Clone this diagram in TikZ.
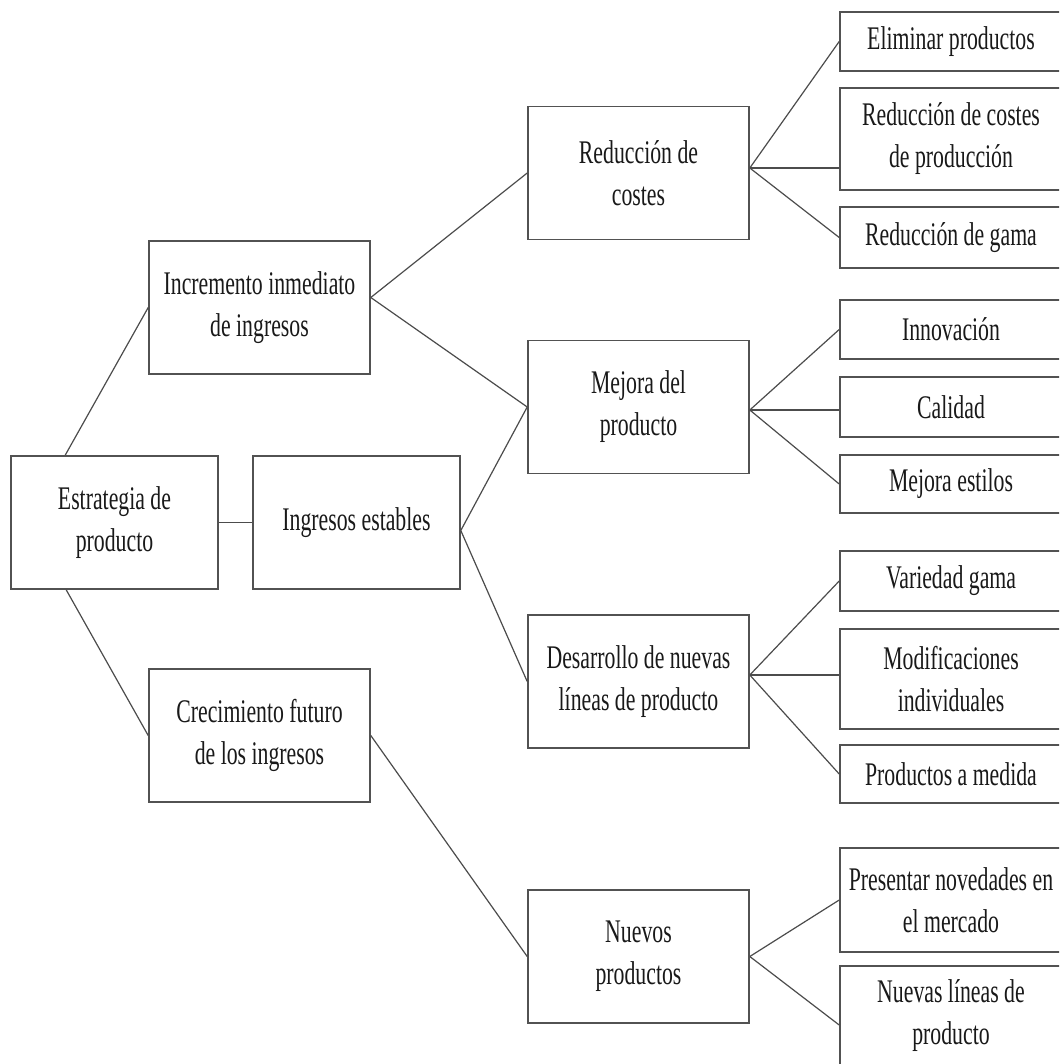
\documentclass[tikz,border=0pt]{standalone}
\usepackage{fontspec}
\setmainfont{Liberation Serif}[FakeStretch=0.66]
\begin{document}
\begin{tikzpicture}[x=0.5pt,y=-0.5pt,
  box/.style={draw=black!68, line width=0.8pt, fill=white, inner sep=0pt,
    align=center, text=black!90,
    font=\fontsize{16.5pt}{21pt}\selectfont},
  midbox/.style={box, minimum width=110.5pt, minimum height=66.5pt},
  leaf/.style={box, minimum width=111pt},
  link/.style={draw=black!70, line width=0.6pt}]
\useasboundingbox (0,0) rectangle (1059,1064);
\clip (0,0) rectangle (1059,1064);
\fill[white] (0,0) rectangle (1059,1064);

% first level
\node[box, minimum width=103.5pt, minimum height=66.5pt] (E) at (114.5,522.5) {Estrategia de\\producto};
\node[box, minimum width=110.5pt, minimum height=66.5pt] (I) at (259.5,307.5) {Incremento inmediato\\de ingresos};
\node[box, minimum width=103.5pt, minimum height=66.5pt] (S) at (356.5,522.5) {Ingresos estables};
\node[box, minimum width=110.5pt, minimum height=66.5pt] (C) at (259.5,735.5) {Crecimiento futuro\\de los ingresos};

% second level
\node[midbox] (R) at (638.5,173) {Reducción de\\costes};
\node[midbox] (M) at (638.5,407) {Mejora del\\producto};
\node[midbox] (D) at (638.5,681.5) {Desarrollo de nuevas\\líneas de producto};
\node[midbox] (N) at (638.5,956.5) {Nuevos\\productos};

% leaves (their right edges run past the page)
\node[leaf, minimum height=29.5pt] (L1) at (951,41.5) {Eliminar productos};
\node[leaf, minimum height=51pt] (L2) at (951,139) {Reducción de costes\\de producción};
\node[leaf, minimum height=30.5pt] (L3) at (951,237.5) {Reducción de gama};
\node[leaf, minimum height=29.5pt] (L4) at (951,329.5) {Innovación};
\node[leaf, minimum height=30pt] (L5) at (951,407) {Calidad};
\node[leaf, minimum height=29pt] (L6) at (951,484) {Mejora estilos};
\node[leaf, minimum height=30pt] (L7) at (951,581) {Variedad gama};
\node[leaf, minimum height=50pt] (L8) at (951,679) {Modificaciones\\individuales};
\node[leaf, minimum height=29pt] (L9) at (951,774) {Productos a medida};
\node[leaf, minimum height=52pt] (L10) at (951,900) {Presentar novedades en\\el mercado};
\node[leaf, minimum height=50pt] (L11) at (951,1016) {Nuevas líneas de\\producto};

% branch points
\coordinate (e1) at ([xshift=27.5pt]E.north west);
\coordinate (e2) at ([xshift=28pt]E.south west);
\coordinate (i0) at ([yshift=5pt]I.east);
\coordinate (s0) at ([yshift=-4pt]S.east);
\coordinate (r0) at ([yshift=2.5pt]R.east);
\coordinate (m0) at ([yshift=-1.5pt]M.east);
\coordinate (d0) at ([yshift=3.25pt]D.east);
\coordinate (n0) at (N.east);

% connectors
\draw[link] (e1) -- (I.west);
\draw[link] (E.east) -- (S.west);
\draw[link] (e2) -- (C.west);
\draw[link] (i0) -- (R.west);
\draw[link] (i0) -- (M.west);
\draw[link] (s0) -- (M.west);
\draw[link] (s0) -- (D.west);
\draw[link] (C.east) -- (N.west);

\draw[link] (r0) -- (L1.west);
\draw[link] (r0) -- (r0 -| L2.west);
\draw[link] (r0) -- (L3.west);
\draw[link] (m0) -- (L4.west);
\draw[link] (m0) -- (m0 -| L5.west);
\draw[link] (m0) -- (L6.west);
\draw[link] (d0) -- (L7.west);
\draw[link] (d0) -- (d0 -| L8.west);
\draw[link] (d0) -- (L9.west);
\draw[link] (n0) -- (L10.west);
\draw[link] (n0) -- ([yshift=-4.5pt]L11.west);
\end{tikzpicture}
\end{document}
